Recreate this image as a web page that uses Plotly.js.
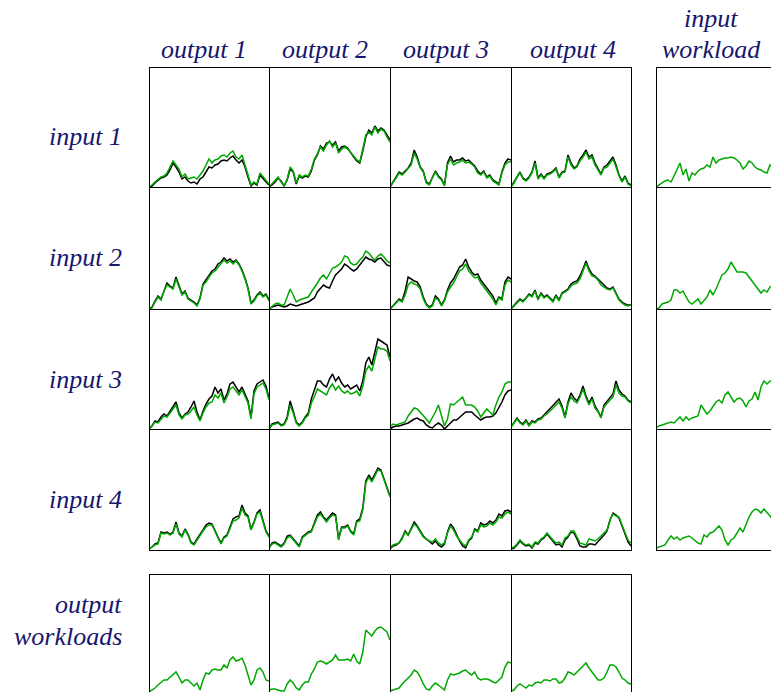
<!DOCTYPE html>
<html>
<head>
<meta charset="utf-8">
<script src="https://cdn.plot.ly/plotly-3.0.1.min.js"></script>
<style>html,body{margin:0;padding:0;background:#fff;}#chart{width:771px;height:692px;}</style>
</head>
<body>
<div id="chart"></div>
<script>
// ---- labels ----
const colLabels = ["output 1", "output 2", "output 3", "output 4"];
const rowLabels = ["input 1", "input 2", "input 3", "input 4"];
const sideLabel = ["input", "workload"];
const bottomLabel = ["output", "workloads"];

// ---- series (green = model / fitted, black = measured) ----
const g11 = [0,2,5,8,10,11,14,20,26,22,18,10,13,8,9,10,8,12,16,22,28,24,27,28,31,32,30,34,36,30,28,32,22,12,2,5,3,14,10,6,3];
const k11 = [0,1,4,7,9,10,12,17,24,20,15,8,10,6,4,5,3,8,10,15,20,19,22,23,26,27,26,29,31,27,24,27,20,10,1,4,2,12,8,5,2];
const g12 = [0,3,6,10,5,1,8,20,16,4,12,10,12,11,18,28,33,40,36,42,46,40,44,34,38,40,38,35,31,27,25,38,52,55,52,60,54,58,56,50,45];
const k12 = [0,2,5,9,6,1,7,18,15,3,11,9,11,10,16,27,32,41,38,44,45,42,45,36,40,41,39,34,30,26,24,36,50,57,54,61,56,59,57,52,47];
const g13 = [0,4,9,14,12,15,18,22,34,28,19,15,4,2,9,15,10,7,1,22,28,22,24,25,27,24,25,23,20,14,12,15,9,11,6,4,2,14,22,25,25];
const k13 = [0,5,10,15,13,16,19,24,37,30,20,16,5,3,10,16,11,8,2,24,31,25,27,27,29,26,27,24,21,16,13,16,10,12,7,5,3,15,24,28,27];
const g14 = [0,4,10,14,8,6,9,14,24,8,12,8,12,13,15,18,9,14,15,30,22,18,20,26,30,35,28,30,22,17,12,19,20,24,28,20,11,5,10,3,1];
const k14 = [0,5,11,15,9,7,10,15,26,9,13,9,13,14,16,19,10,15,16,32,24,19,21,28,32,37,30,32,24,18,13,20,22,26,30,22,12,6,11,4,2];

const g21 = [0,1,7,12,9,18,24,22,20,30,22,14,17,10,8,6,3,10,24,27,32,36,38,42,45,49,46,48,45,48,44,38,30,20,5,8,13,16,12,14,8];
const k21 = [0,2,8,13,10,19,26,23,21,32,23,15,18,11,9,7,4,11,25,29,34,38,40,45,47,51,48,50,47,49,45,39,31,21,6,9,14,17,13,15,9];
const g22 = [0,3,5,6,4,4,12,20,14,7,9,10,11,12,17,21,26,31,34,30,36,41,42,44,47,53,52,46,44,45,49,52,58,56,52,49,53,55,52,48,46];
const k22 = [0,2,3,4,3,2,3,5,4,3,4,5,6,7,9,11,17,20,24,22,21,28,34,37,40,45,43,40,38,40,44,47,52,50,49,47,50,51,47,44,43];
const g23 = [0,3,5,9,7,14,24,27,25,24,20,10,4,1,3,11,9,3,8,17,22,26,32,38,40,45,38,34,31,32,26,22,18,15,10,4,11,9,24,29,27];
const k23 = [0,3,6,10,8,18,32,30,28,27,22,12,5,2,4,13,10,4,9,19,26,30,36,42,44,50,42,37,34,35,29,25,20,17,13,6,12,10,27,32,30];
const g24 = [0,3,6,9,7,10,14,12,18,9,15,11,13,10,7,13,8,15,17,19,23,25,26,30,38,46,38,33,32,29,24,22,20,19,21,15,9,6,4,3,4];
const k24 = [0,4,7,10,8,11,15,13,19,10,16,12,14,11,8,14,9,16,18,20,25,27,28,33,40,48,40,35,33,30,26,24,21,20,22,16,10,7,5,4,4];

const g31 = [0,3,7,6,10,13,12,16,20,24,14,10,14,15,18,22,14,8,16,22,26,27,34,31,36,26,32,40,42,38,34,39,32,26,10,35,42,44,46,40,29];
const k31 = [0,3,8,7,12,15,13,18,23,27,16,11,15,17,22,28,17,9,18,25,30,33,42,36,40,29,35,45,47,42,37,42,35,28,12,38,45,47,49,43,31];
const g32 = [0,4,5,6,3,4,10,24,16,6,3,6,11,14,26,32,40,38,36,34,41,45,39,43,38,36,38,35,36,38,33,43,58,63,58,70,82,80,80,78,68];
const k32 = [0,5,6,7,4,5,12,28,18,7,4,7,12,16,30,38,48,48,44,42,50,55,48,52,46,42,44,40,42,44,38,48,66,72,64,76,90,88,86,84,72];
const g33 = [2,5,4,5,6,7,13,17,21,20,17,14,10,6,11,17,24,14,3,10,25,24,27,29,32,24,24,24,22,18,12,16,20,17,14,24,32,37,45,47,47];
const k33 = [0,2,3,3,4,5,6,8,10,11,9,8,4,2,1,4,6,4,0,3,6,9,9,12,15,17,17,17,14,11,9,11,12,12,13,16,21,27,34,38,39];
const g34 = [2,6,10,6,4,8,3,7,6,9,10,13,15,18,21,24,27,21,11,25,32,28,26,32,40,31,24,30,21,17,11,22,26,29,32,44,36,33,32,28,26];
const k34 = [2,7,11,7,5,9,4,8,7,10,11,14,17,20,23,27,30,23,12,27,36,31,28,34,43,33,26,32,23,18,12,24,28,31,35,48,39,35,33,29,27];

const g41 = [1,3,5,6,17,16,17,15,17,26,16,13,20,15,7,5,10,14,19,23,25,25,18,12,6,12,14,22,29,30,32,42,35,33,20,27,36,38,28,18,13];
const k41 = [1,3,6,7,18,17,18,16,18,28,17,14,21,16,8,6,11,15,20,25,27,26,19,13,7,13,15,24,31,33,34,45,37,34,21,28,37,40,30,19,14];
const g42 = [2,6,7,5,3,6,12,14,10,6,3,12,15,17,18,25,33,36,32,28,32,35,34,10,22,22,24,18,15,28,29,40,67,73,68,74,80,79,70,62,53];
const k42 = [2,7,8,6,4,7,14,15,11,7,4,13,16,18,19,27,35,38,33,30,33,37,35,11,23,23,25,19,16,29,31,42,69,75,70,76,82,80,72,63,54];
const g43 = [2,5,6,7,11,18,15,21,26,23,18,13,11,9,8,11,7,5,7,17,24,20,14,10,6,4,10,13,20,18,25,23,24,27,25,28,33,32,36,38,36];
const k43 = [1,4,5,7,12,19,15,22,28,24,19,14,11,8,6,9,5,3,6,18,26,22,15,9,4,2,9,12,21,19,27,25,26,29,27,30,36,34,39,40,38];
const g44 = [2,3,6,10,7,5,6,3,8,7,11,13,17,13,10,7,8,5,12,14,19,19,13,7,6,5,11,10,9,11,14,17,20,30,36,34,33,25,18,10,7];
const k44 = [1,2,5,9,6,4,5,2,7,6,10,12,16,12,8,5,6,3,10,13,18,17,11,4,3,3,6,6,5,8,12,15,19,30,37,35,32,24,17,8,4];

// input workloads (right column)
const w1 = [0,2,4,6,7,5,11,17,24,12,18,6,14,12,16,18,19,22,20,30,24,27,28,29,29,30,29,27,24,18,21,26,24,20,18,17,15,14,22,20];
const w2 = [0,1,5,6,7,9,19,19,16,18,12,7,5,8,10,5,9,12,19,14,20,28,34,36,40,47,42,37,37,37,36,32,28,24,20,16,19,17,22,24];
const w3 = [1,3,4,5,6,7,6,9,12,8,12,9,11,12,13,24,20,15,18,22,27,29,26,34,37,32,27,30,31,28,22,28,30,37,29,42,48,45,48,47];
const w4 = [2,3,4,5,10,14,11,13,10,12,13,14,12,9,7,6,15,13,17,18,21,24,20,10,5,10,12,17,22,18,26,33,38,41,40,37,41,38,34,30];

// output workloads (bottom row)
const o1 = [2,4,6,9,12,14,14,17,19,22,17,11,14,14,11,8,11,4,14,21,20,24,25,24,24,29,26,34,37,33,34,36,29,19,9,14,24,26,22,14,13];
const o2 = [4,5,5,4,3,3,10,14,11,6,4,9,12,12,20,25,32,33,32,30,32,34,39,34,34,34,35,33,40,33,30,42,64,61,58,63,66,67,64,62,54];
const o3 = [3,4,5,6,10,13,16,19,24,22,17,10,5,4,8,11,9,6,4,14,20,19,20,21,23,24,21,19,22,16,14,15,15,14,12,11,14,17,27,32,31];
const o4 = [3,4,8,10,8,6,9,8,11,12,11,14,14,13,15,15,11,12,16,22,21,19,22,25,28,31,26,22,19,14,14,16,22,29,29,27,22,16,14,11,10];

const greenGrid = [[g11,g12,g13,g14],[g21,g22,g23,g24],[g31,g32,g33,g34],[g41,g42,g43,g44]];
const blackGrid = [[k11,k12,k13,k14],[k21,k22,k23,k24],[k31,k32,k33,k34],[k41,k42,k43,k44]];
const inputWork = [w1,w2,w3,w4];
const outputWork = [o1,o2,o3,o4];

// ---- geometry (pixels) ----
const W = 771, H = 692;
const colPx = [[149,269],[269,390],[390,511],[511,631]];
const rowPx = [[67,187],[187,309],[309,429],[429,550]];
const sideCol = [656,776];
const bottomRow = [574,694];
const GREEN = '#00a800', BLACK = '#000000', TXT = '#16166e';
const FONT = 'Liberation Serif, Times New Roman, serif';

const px2x = p => p / W;
const px2y = p => 1 - p / H;

const traces = [];
const layout = {
  width: W, height: H,
  margin: {l:0, r:0, t:0, b:0},
  paper_bgcolor: '#fff', plot_bgcolor: 'rgba(0,0,0,0)',
  showlegend: false,
  shapes: [], annotations: []
};
let n = 0;
function axisCommon() {
  return {showgrid:false, zeroline:false, showticklabels:false, ticks:'', showline:false, fixedrange:true};
}
function panel(xpx, ypx, series, xmax, yr) {
  n += 1;
  const xa = n === 1 ? 'xaxis' : 'xaxis' + n;
  const ya = n === 1 ? 'yaxis' : 'yaxis' + n;
  const xr = n === 1 ? 'x' : 'x' + n;
  const yrn = n === 1 ? 'y' : 'y' + n;
  const x0 = px2x(xpx[0]), x1 = Math.min(1, px2x(xpx[1]));
  const y0 = Math.max(0, px2y(ypx[1])), y1 = px2y(ypx[0]);
  layout[xa] = Object.assign(axisCommon(), {domain:[x0, x1], range:[0, xmax], anchor: yrn});
  layout[ya] = Object.assign(axisCommon(), {domain:[y0, y1], range: yr, anchor: xr});
  series.forEach(s => {
    traces.push({
      x: s.v.map((_, i) => i), y: s.v, mode: 'lines', type: 'scatter',
      line: {color: s.c, width: 1.5}, xaxis: xr, yaxis: yrn, hoverinfo: 'skip'
    });
  });
}
// main grid
for (let r = 0; r < 4; r++) {
  for (let c = 0; c < 4; c++) {
    const h = rowPx[r][1] - rowPx[r][0];
    panel(colPx[c], rowPx[r], [{v: blackGrid[r][c], c: BLACK}, {v: greenGrid[r][c], c: GREEN}], 40, [0, h]);
  }
  // input workload column (cut at right edge)
  const visW = W - sideCol[0];
  panel([sideCol[0], W], rowPx[r], [{v: inputWork[r], c: GREEN}], 40 * visW / 120, [0, rowPx[r][1] - rowPx[r][0]]);
}
// output workloads row (cut at bottom)
for (let c = 0; c < 4; c++) {
  const cut = bottomRow[1] - H;
  panel(colPx[c], [bottomRow[0], H], [{v: outputWork[c], c: GREEN}], 40, [cut, 120]);
}

// ---- borders ----
function hline(x0, x1, y) { layout.shapes.push({type:'line', xref:'paper', yref:'paper', x0:px2x(x0), x1:px2x(x1), y0:px2y(y), y1:px2y(y), line:{color:'#000', width:1}, layer:'above'}); }
function vline(x, y0, y1) { layout.shapes.push({type:'line', xref:'paper', yref:'paper', x0:px2x(x), x1:px2x(x), y0:px2y(y0), y1:px2y(y1), line:{color:'#000', width:1}, layer:'above'}); }
const hy = [67.5,187.5,309.5,429.5,550.5];
hy.forEach(y => { hline(149, 631.5, y); hline(656, W, y); });
[149.5,269.5,390.5,511.5,631.5].forEach(x => { vline(x, 67, 551); vline(x, 574, H); });
vline(656.5, 67, 551);
hline(149, 631.5, 574.5);

// ---- text ----
function ann(text, x, y, xanchor) {
  layout.annotations.push({text: '<i>' + text + '</i>', xref:'paper', yref:'paper', x: px2x(x), y: px2y(y),
    xanchor: xanchor, yanchor:'middle', showarrow:false, font:{family: FONT, size: 26, color: TXT}});
}
const colCenters = [204, 325, 446, 573];
colLabels.forEach((t, i) => ann(t, colCenters[i], 50, 'center'));
const rowCenters = [136, 257, 379, 499];
rowLabels.forEach((t, i) => ann(t, 124, rowCenters[i], 'right'));
ann(sideLabel[0], 711, 18, 'center');
ann(sideLabel[1], 711, 50, 'center');
ann(bottomLabel[0], 124, 604, 'right');
ann(bottomLabel[1], 124, 636, 'right');

Plotly.newPlot('chart', traces, layout, {displayModeBar:false, staticPlot:true});
</script>
</body>
</html>
